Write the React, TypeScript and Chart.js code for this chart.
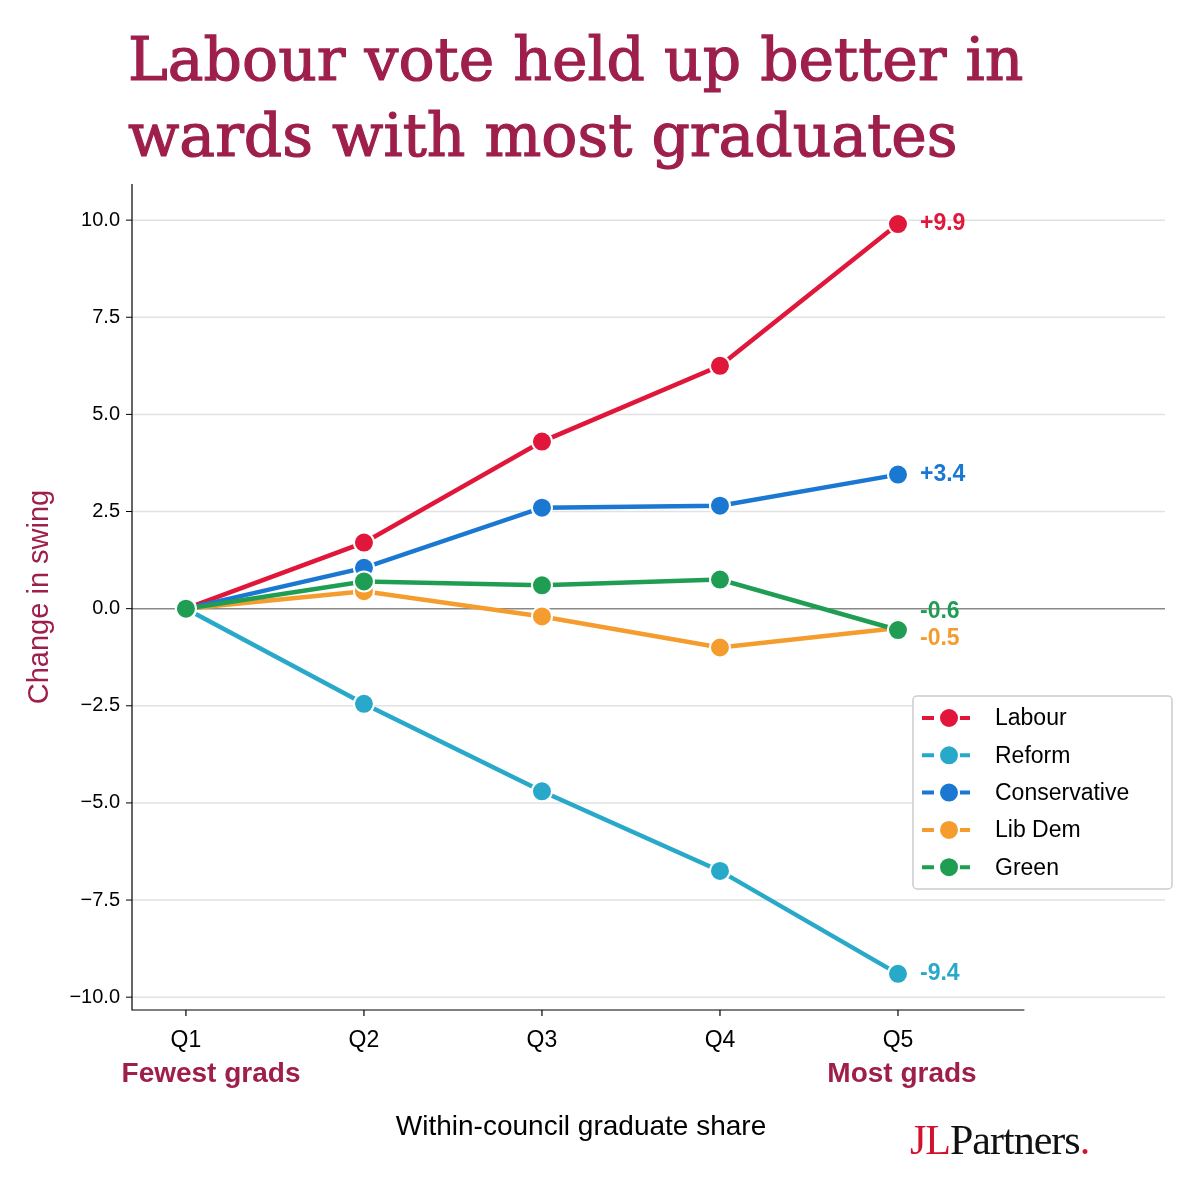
import React, { useEffect, useRef } from "react";
import { Chart, registerables } from "chart.js";
Chart.register(...registerables);

const categories = ["Q1", "Q2", "Q3", "Q4", "Q5"];
const labour = [0, 1.7, 4.3, 6.25, 9.9];
const reform = [0, -2.45, -4.7, -6.75, -9.4];
const conservative = [0, 1.05, 2.6, 2.65, 3.45];
const libDem = [0, 0.45, -0.2, -1.0, -0.5];
const green = [0, 0.7, 0.6, 0.75, -0.55];
const endLabels = ["+9.9", "-9.4", "+3.4", "-0.5", "-0.6"];
const seriesNames = ["Labour", "Reform", "Conservative", "Lib Dem", "Green"];
const colors = ["#e0173a", "#29a9c9", "#1a78d2", "#f59c2f", "#1f9e53"];
const yTicks = [-10, -7.5, -5, -2.5, 0, 2.5, 5, 7.5, 10];
const TITLE = "#9e1f4c";

export default function App() {
  const ref = useRef<HTMLCanvasElement>(null);
  useEffect(() => {
    const values = [labour, reform, conservative, libDem, green];
    const fmt = (v: number) => (v < 0 ? "\u2212" : "") + Math.abs(v).toFixed(1);
    const deco = {
      id: "deco",
      beforeDatasetsDraw(c: any) {
        const ctx = c.ctx, x = c.scales.x, y = c.scales.y, a = c.chartArea;
        ctx.save();
        yTicks.forEach((t) => {
          const py = y.getPixelForValue(t);
          ctx.strokeStyle = t === 0 ? "#888" : "#e2e2e2";
          ctx.lineWidth = 1.5;
          ctx.beginPath(); ctx.moveTo(a.left, py); ctx.lineTo(a.right, py); ctx.stroke();
          ctx.strokeStyle = "#000"; ctx.lineWidth = 1;
          ctx.beginPath(); ctx.moveTo(a.left - 6, py); ctx.lineTo(a.left, py); ctx.stroke();
          ctx.fillStyle = "#000"; ctx.font = "20px 'Liberation Sans', Arial";
          ctx.textAlign = "right"; ctx.textBaseline = "middle";
          ctx.fillText(fmt(t), a.left - 12, py);
        });
        ctx.strokeStyle = "#000"; ctx.lineWidth = 1.2;
        const axEnd = x.getPixelForValue(4.71);
        ctx.beginPath(); ctx.moveTo(a.left, a.top); ctx.lineTo(a.left, a.bottom); ctx.lineTo(axEnd, a.bottom); ctx.stroke();
        categories.forEach((cat, i) => {
          const px = x.getPixelForValue(i);
          ctx.beginPath(); ctx.moveTo(px, a.bottom); ctx.lineTo(px, a.bottom + 6); ctx.stroke();
          ctx.fillStyle = "#000"; ctx.font = "23px 'Liberation Sans', Arial";
          ctx.textAlign = "center"; ctx.textBaseline = "middle";
          ctx.fillText(cat, px, 1041);
        });
        ctx.fillStyle = TITLE; ctx.font = "bold 28px 'Liberation Sans', Arial";
        ctx.fillText("Fewest grads", 211, 1074);
        ctx.fillText("Most grads", 902, 1074);
        ctx.fillStyle = "#000"; ctx.font = "28px 'Liberation Sans', Arial";
        ctx.fillText("Within-council graduate share", 581, 1127);
        ctx.save(); ctx.translate(40, 597); ctx.rotate(-Math.PI / 2);
        ctx.fillStyle = TITLE; ctx.font = "29px 'Liberation Sans', Arial";
        ctx.fillText("Change in swing", 0, 0); ctx.restore();
        ctx.restore();
      },
      afterDatasetsDraw(c: any) {
        const ctx = c.ctx, x = c.scales.x, y = c.scales.y;
        ctx.save();
        ctx.font = "bold 23px 'Liberation Sans', Arial"; ctx.textAlign = "left"; ctx.textBaseline = "middle";
        const offs = [0, 0, 0, 11, -18];
        values.forEach((v, i) => {
          ctx.fillStyle = colors[i];
          ctx.fillText(endLabels[i], x.getPixelForValue(4) + 22, y.getPixelForValue(v[4]) + offs[i]);
        });
        ctx.fillStyle = "#fff"; ctx.strokeStyle = "#ccc"; ctx.lineWidth = 1.5;
        ctx.beginPath(); ctx.roundRect(913, 696, 259, 193, 4); ctx.fill(); ctx.stroke();
        seriesNames.forEach((n, i) => {
          const ly = 718 + i * 37.3;
          ctx.strokeStyle = colors[i]; ctx.lineWidth = 4; ctx.setLineDash([12, 6]);
          ctx.beginPath(); ctx.moveTo(922, ly); ctx.lineTo(976, ly); ctx.stroke();
          ctx.setLineDash([]);
          ctx.fillStyle = colors[i]; ctx.strokeStyle = "#fff"; ctx.lineWidth = 2;
          ctx.beginPath(); ctx.arc(949, ly, 10, 0, Math.PI * 2); ctx.fill(); ctx.stroke();
          ctx.fillStyle = "#000"; ctx.font = "23px 'Liberation Sans', Arial";
          ctx.fillText(n, 995, ly + 1);
        });
        ctx.restore();
      },
    };
    const chart = new Chart(ref.current!, {
      type: "line",
      data: {
        datasets: values.map((v, i) => ({
          label: seriesNames[i],
          data: v.map((val, j) => ({ x: j, y: val })),
          borderColor: colors[i], backgroundColor: colors[i],
          borderWidth: 4.5, pointRadius: 10, pointBorderColor: "#fff", pointBorderWidth: 2,
        })).reverse(),
      },
      options: {
        animation: false, responsive: false, devicePixelRatio: 1,
        layout: { padding: { left: 132, top: 184, right: 35, bottom: 168 } },
        plugins: { legend: { display: false }, tooltip: { enabled: false } },
        scales: {
          x: { type: "linear", display: false, min: -0.303, max: 5.5 },
          y: { display: false, min: -10.33, max: 10.93 },
        },
      },
      plugins: [deco],
    });
    return () => chart.destroy();
  }, []);
  return (
    <div style={{ position: "absolute", left: 0, top: 0, width: 1200, height: 1178, background: "#fff" }}>
      <div style={{ position: "absolute", left: 128, top: 21, color: TITLE, font: "60px 'DejaVu Serif', serif", lineHeight: "76px", whiteSpace: "nowrap", WebkitTextStroke: `1.2px ${TITLE}` } as any}>
        Labour vote held up better in<br />wards with most graduates
      </div>
      <canvas ref={ref} width={1200} height={1178} style={{ position: "absolute", left: 0, top: 0 }} />
      <div style={{ position: "absolute", left: 910, top: 1116, font: "42px 'Liberation Serif', serif", color: "#111", letterSpacing: -1 }}>
        <span style={{ color: "#d0122f" }}>JL</span>Partners<span style={{ color: "#d0122f" }}>.</span>
      </div>
    </div>
  );
}
